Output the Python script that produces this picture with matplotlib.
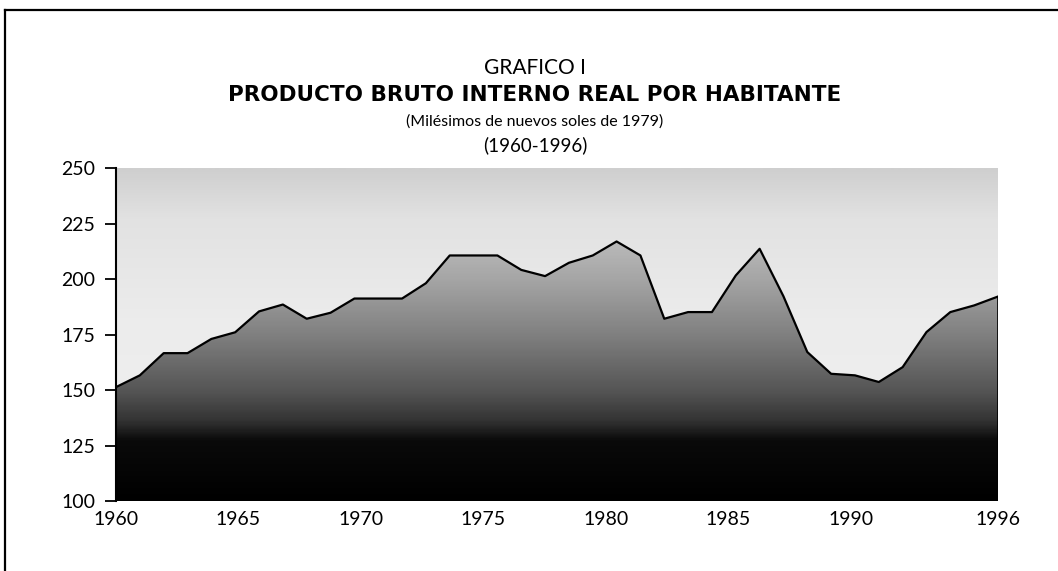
import numpy as np
import matplotlib
matplotlib.use("Agg")
import matplotlib.pyplot as plt
from matplotlib.colors import LinearSegmentedColormap
from matplotlib.patches import PathPatch
from matplotlib.lines import Line2D

plt.rcParams['font.family'] = ['Lato', 'DejaVu Sans']

# PBI real por habitante (milesimos de nuevos soles de 1979)
pbi = [151.3, 156.6, 166.6, 166.6, 173.0, 176.0, 185.4, 188.5, 182.1, 184.8,
       191.2, 191.2, 191.2, 198.1, 210.6, 210.6, 210.6, 204.1, 201.3, 207.3,
       210.6, 216.9, 210.6, 182.1, 185.1, 185.1, 201.6, 213.6, 192.2, 167.1,
       157.3, 156.6, 153.6, 160.3, 176.1, 185.1, 188.1, 192.1]
anios = np.linspace(1960, 1996, len(pbi))

xticks = [1960, 1965, 1970, 1975, 1980, 1985, 1990, 1996]
yticks = [100, 125, 150, 175, 200, 225, 250]

W, H = 1058, 571
fig = plt.figure(figsize=(W / 100, H / 100), dpi=100)
ax = fig.add_axes([116/W, 1 - 501/H, (998 - 116)/W, (501 - 168)/H])

# fondo claro (sobre la linea)
bg_cmap = LinearSegmentedColormap.from_list('bg', [(0.0, '#f1f1f1'), (0.55, '#ececec'),
                                                   (0.85, '#e2e2e2'), (1.0, '#cfcfcf')])
grad = np.linspace(0, 1, 300)[:, None]
ax.imshow(grad, extent=[1960, 1996, 100, 250], origin='lower', aspect='auto',
          cmap=bg_cmap, zorder=0)

# area bajo la linea con degradado
area_cmap = LinearSegmentedColormap.from_list(
    'area', [(0.0, '#000000'), (0.18, '#0a0a0a'), (0.24, '#333333'),
             (0.33, '#555555'), (0.50, '#808080'), (0.67, '#a6a6a6'),
             (0.80, '#bdbdbd'), (1.0, '#cccccc')])
poly = ax.fill_between(anios, 100, pbi, facecolor='none', edgecolor='none')
patch = PathPatch(poly.get_paths()[0], transform=ax.transData,
                  facecolor='none', edgecolor='none')
ax.add_patch(patch)
im = ax.imshow(grad, extent=[1960, 1996, 100, 250], origin='lower', aspect='auto',
               cmap=area_cmap, zorder=1)
im.set_clip_path(patch)

ax.plot(anios, pbi, color='black', lw=1.6, zorder=3)
ax.plot([1996, 1996], [100, pbi[-1]], color='black', lw=1.2, zorder=3)

ax.set_xlim(1960, 1996)
ax.set_ylim(100, 250)
ax.set_yticks(yticks)
ax.set_yticklabels([str(v) for v in yticks], fontsize=14)
ax.set_xticks(xticks)
ax.set_xticklabels([str(v) for v in xticks], fontsize=14)
ax.set_xticks([1960, 1996], minor=True)
ax.tick_params(axis='x', which='major', length=0, pad=7)
ax.tick_params(axis='x', which='minor', length=7, width=1.3, direction='out')
ax.tick_params(axis='y', length=8, width=1.3, direction='out', pad=7)
for s in ['top', 'right', 'bottom']:
    ax.spines[s].set_visible(False)
ax.spines['left'].set_linewidth(1.5)

# titulos
cx = 535 / W
fig.text(cx, 1 - 68/H, 'GRAFICO I', ha='center', va='center', fontsize=15)
fig.text(cx, 1 - 95/H, 'PRODUCTO BRUTO INTERNO REAL POR HABITANTE',
         ha='center', va='center', fontsize=15.5, fontweight='bold',
         family=['DejaVu Sans'])
fig.text(cx, 1 - 122/H, '(Milésimos de nuevos soles de 1979)',
         ha='center', va='center', fontsize=11.5)
fig.text(cx, 1 - 145/H, '(1960-1996)', ha='center', va='center', fontsize=13.5)

# marco de la pagina
fig.add_artist(Line2D([5/W, 1.0], [1 - 10/H, 1 - 10/H], color='black', lw=1.6))
fig.add_artist(Line2D([5/W, 5/W], [1 - 10/H, 0.0], color='black', lw=1.6))

fig.savefig('out.png', dpi=100)
